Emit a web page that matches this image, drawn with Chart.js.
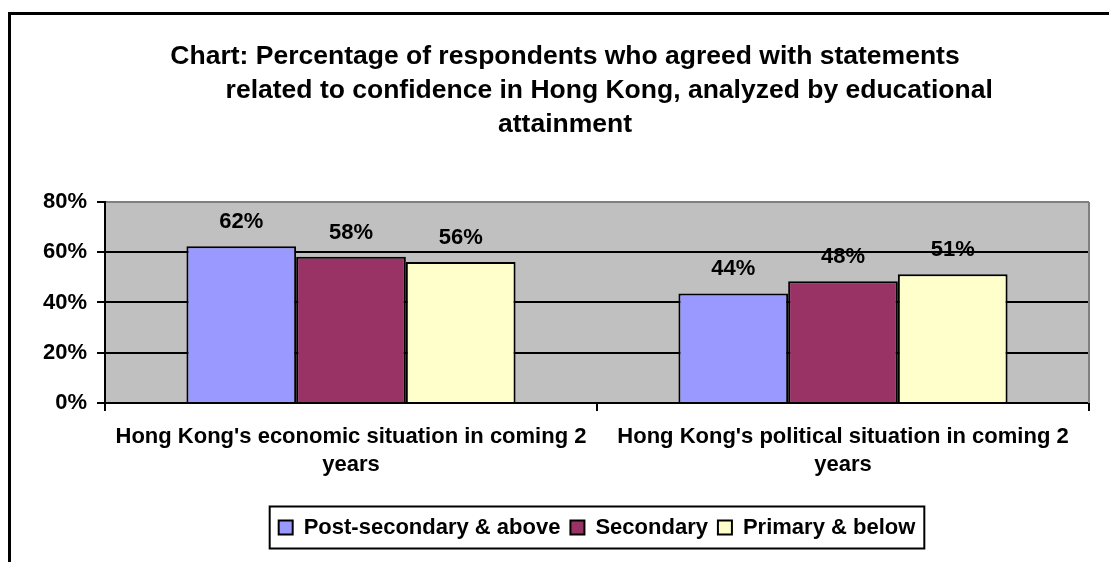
<!DOCTYPE html>
<html>
<head>
<meta charset="utf-8">
<script src="https://cdn.jsdelivr.net/npm/chart.js@4.4.1/dist/chart.umd.min.js"></script>
<style>
html, body { margin: 0; padding: 0; background: #fff; overflow: hidden; }
#frame { position: absolute; left: 8px; top: 12px; width: 1200px; height: 700px; border: 3px solid #000; }
#wrap { position: absolute; left: 0; top: 0; width: 1109px; height: 562px; }
</style>
</head>
<body>
<div id="frame"></div>
<div id="wrap"><canvas id="myChart"></canvas></div>
<script>
var categories = [
    ["Hong Kong's economic situation in coming 2", "years"],
    ["Hong Kong's political situation in coming 2", "years"]
];
var seriesNames = ["Post-secondary & above", "Secondary", "Primary & below"];
var postSecondary = [62.4, 43.6];
var secondary = [58.2, 48.4];
var primary = [56.1, 51.2];
var seriesColors = ['#9999FF', '#993366', '#FFFFCC'];
var yMax = 80;
var yStep = 20;
var titleLines = [
    "Chart: Percentage of respondents who agreed with statements",
    "            related to confidence in Hong Kong, analyzed by educational",
    "attainment"
];

var FONT = "'Liberation Sans', Arial, sans-serif";

// grey plot area + grey right border like the Excel original
var plotArea = {
    id: 'plotArea',
    beforeDraw: function(chart) {
        var a = chart.chartArea, ctx = chart.ctx;
        ctx.save();
        ctx.fillStyle = '#C0C0C0';
        ctx.fillRect(a.left, a.top, a.right - a.left, a.bottom - a.top);
        ctx.restore();
    },
    beforeDatasetsDraw: function(chart) {
        var a = chart.chartArea, ctx = chart.ctx;
        ctx.save();
        ctx.strokeStyle = '#808080';
        ctx.lineWidth = 2;
        ctx.beginPath();
        ctx.moveTo(a.right, a.top);
        ctx.lineTo(a.right, a.bottom);
        ctx.stroke();
        ctx.restore();
    }
};

// value labels above bars
var valueLabels = {
    id: 'valueLabels',
    afterDatasetsDraw: function(chart) {
        var ctx = chart.ctx;
        ctx.save();
        ctx.font = 'bold 22px ' + FONT;
        ctx.fillStyle = '#000';
        ctx.textAlign = 'center';
        ctx.textBaseline = 'middle';
        chart.data.datasets.forEach(function(ds, i) {
            chart.getDatasetMeta(i).data.forEach(function(bar, j) {
                ctx.fillText(Math.round(ds.data[j]) + '%', bar.x, bar.y - 24);
            });
        });
        ctx.restore();
    }
};

// box around the legend
var legendBox = {
    id: 'legendBox',
    afterDraw: function(chart) {
        var hb = chart.legend.legendHitBoxes;
        if (!hb || !hb.length) return;
        var l = Infinity, r = -Infinity, t = Infinity, b = -Infinity;
        hb.forEach(function(h) {
            l = Math.min(l, h.left); r = Math.max(r, h.left + h.width);
            t = Math.min(t, h.top); b = Math.max(b, h.top + h.height);
        });
        var ctx = chart.ctx;
        ctx.save();
        ctx.strokeStyle = '#000';
        ctx.lineWidth = 2;
        ctx.strokeRect(l - 9, t - 10, r - l + 18, b - t + 20);
        ctx.restore();
    }
};

var config = {
    type: 'bar',
    data: {
        labels: categories,
        datasets: [
            { label: seriesNames[0], data: postSecondary, backgroundColor: seriesColors[0] },
            { label: seriesNames[1], data: secondary, backgroundColor: seriesColors[1] },
            { label: seriesNames[2], data: primary, backgroundColor: seriesColors[2] }
        ].map(function(d) {
            d.borderColor = '#000';
            d.borderWidth = 2;
            d.barPercentage = 1;
            d.categoryPercentage = 0.669;
            return d;
        })
    },
    options: {
        responsive: true,
        maintainAspectRatio: false,
        animation: false,
        layout: { padding: { left: 41, right: 20, top: 0, bottom: 13.5 } },
        plugins: {
            title: {
                display: true,
                text: titleLines,
                color: '#000',
                font: { family: FONT, size: 26.5, weight: 'bold', lineHeight: 1.28 },
                padding: { top: 40, bottom: 60.2 }
            },
            legend: {
                position: 'bottom',
                fullSize: false,
                labels: {
                    color: '#000',
                    font: { family: FONT, size: 22, weight: 'bold' },
                    boxWidth: 14,
                    boxHeight: 14,
                    padding: 10
                }
            },
            tooltip: { enabled: false }
        },
        scales: {
            x: {
                afterFit: function(scale) { scale.height = 103.5; },
                grid: {
                    display: true,
                    drawOnChartArea: false,
                    offset: true,
                    tickLength: 8,
                    color: '#000',
                    lineWidth: 2
                },
                border: { color: '#000', width: 2 },
                ticks: {
                    color: '#000',
                    padding: 12,
                    maxRotation: 0,
                    font: { family: FONT, size: 22, weight: 'bold', lineHeight: 1.273 }
                }
            },
            y: {
                min: 0,
                max: yMax,
                afterFit: function(scale) { scale.width = 64; },
                grid: {
                    color: function(c) { return c.tick && c.tick.value === yMax ? '#808080' : '#000'; },
                    tickColor: '#000',
                    tickLength: 8,
                    lineWidth: 2
                },
                border: { color: '#000', width: 2 },
                ticks: {
                    stepSize: yStep,
                    color: '#000',
                    padding: 10,
                    font: { family: FONT, size: 22, weight: 'bold' },
                    callback: function(v) { return v + '%'; }
                }
            }
        }
    },
    plugins: [plotArea, valueLabels, legendBox]
};

window.onload = function() {
    var ctx = document.getElementById("myChart");
    window.myBar = new Chart(ctx, config);
};
</script>
</body>
</html>
